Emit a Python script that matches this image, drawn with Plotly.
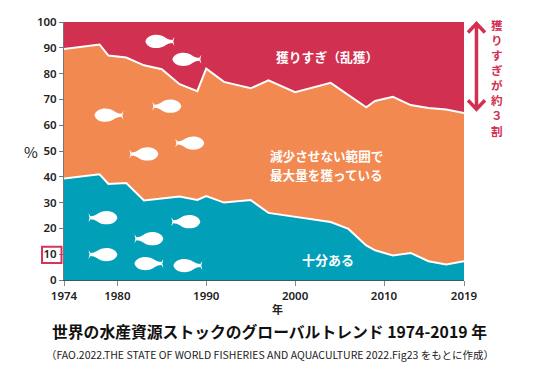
import plotly.graph_objects as go

W, H = 540, 375
L, R, T, B = 64, 464.5, 21.5, 280.5

years_low = [1974, 1978, 1979, 1981, 1983, 1985, 1987, 1989, 1990, 1992, 1995, 1997, 2000, 2004, 2006, 2008, 2009, 2011, 2013, 2015, 2017, 2019]
sustainable = [39.3, 41, 37.2, 37.6, 30.8, 31.5, 32.4, 31, 32.5, 30, 31, 26, 24.6, 22.5, 19.8, 13.4, 11.5, 9.5, 10.5, 7.3, 6, 7.3]
years_up = [1974, 1978, 1979, 1981, 1983, 1985, 1987, 1989, 1990, 1992, 1995, 1997, 2000, 2004, 2008, 2009, 2011, 2013, 2015, 2017, 2019]
max_fished = [89.5, 91.3, 87, 86.2, 83.2, 81.7, 75.9, 73.2, 81.9, 76.8, 74.3, 77.4, 72.8, 76.4, 66.9, 69.4, 71, 67.8, 66.7, 66.1, 64.7]
years_all = [1974, 2019]
total = [100, 100]

x_ticks = [1974, 1980, 1990, 2000, 2010, 2019]
y_ticks = list(range(0, 101, 10))

RED, ORANGE, TEAL = "#d13050", "#f18951", "#029fb8"
JP = "'Noto Sans CJK JP', 'Noto Sans', sans-serif"

def px(x): return (x - L) / (R - L)
def py(y): return (B - y) / (B - T)

# decorative fish: centre x, centre y (page pixels), direction of tail
fish = [(160, 41, 1), (187, 59, 1), (109, 115, 1), (167, 106, -1), (144, 154, -1), (190, 143, -1),
        (103, 218, -1), (149, 239, -1), (186, 222, -1), (103, 255, -1), (149, 264, 1), (188, 266, 1)]

def fish_path(cx, cy, d):
    def p(dx, dy):
        return f"{px(cx + d * dx):.4f},{py(cy + dy):.4f}"
    return (f"M{p(-14.5, 0)} C{p(-13, -7)} {p(-1, -9)} {p(6, -3.5)} Q{p(9, -1.5)} {p(12.5, -1.5)} "
            f"L{p(14.5, -4.5)} L{p(13.5, 0)} L{p(14.5, 4.5)} L{p(12.5, 1.5)} Q{p(9, 1.5)} {p(6, 3.5)} "
            f"C{p(-1, 9)} {p(-13, 7)} {p(-14.5, 0)} Z")

shapes = [dict(type="path", xref="paper", yref="paper", path=fish_path(*f),
               fillcolor="white", line=dict(width=0), layer="above") for f in fish]

# highlighted tick box around 10
shapes.append(dict(type="rect", xref="paper", yref="paper", x0=px(42), x1=px(61.5), y0=py(247), y1=py(263.5),
                   line=dict(color="#d6345f", width=2), fillcolor="rgba(0,0,0,0)"))
# double arrow
ax = 477
arrow = (f"M{px(ax-8.5):.4f},{py(32):.4f} L{px(ax):.4f},{py(23):.4f} L{px(ax+8.5):.4f},{py(32):.4f} "
         f"M{px(ax):.4f},{py(23):.4f} L{px(ax):.4f},{py(109):.4f} "
         f"M{px(ax-8.5):.4f},{py(100):.4f} L{px(ax):.4f},{py(109):.4f} L{px(ax+8.5):.4f},{py(100):.4f}")
shapes.append(dict(type="path", xref="paper", yref="paper", path=arrow,
                   line=dict(color=RED, width=3.5)))

def label(x, y, text, size, color="#ffffff", bold=True, family=JP):
    return dict(xref="paper", yref="paper", x=px(x), y=py(y), text=f"<b>{text}</b>" if bold else text,
                showarrow=False, xanchor="center", yanchor="middle",
                font=dict(family=family, size=size, color=color))

vert = "獲りすぎが約３割"
ann = [
    label(327, 56, "獲りすぎ（乱獲）", 12.8),
    label(327, 155.5, "減少させない範囲で", 12.6),
    label(327, 174.5, "最大量を獲っている", 12.6),
    label(328, 260, "十分ある", 13),
    label(31, 152, "%", 15, "#222222", False),
    label(278, 310, "年", 11, "#222222"),
    label(270, 332, "世界の水産資源ストックのグローバルトレンド 1974-2019 年", 15.8, "#111111"),
    label(270, 355, "（FAO.2022.THE STATE OF WORLD FISHERIES AND AQUACULTURE 2022.Fig23 をもとに作成）", 10.5, "#222222", False),
    label(498, 78, "<br>".join(vert), 11.6, RED),
]

fig = go.Figure()
fig.add_trace(go.Scatter(x=years_all, y=total, mode="lines", line=dict(width=0), fill="tozeroy", fillcolor=RED, hoverinfo="skip"))
fig.add_trace(go.Scatter(x=years_up, y=max_fished, mode="lines", line=dict(color="white", width=2), fill="tozeroy", fillcolor=ORANGE, hoverinfo="skip"))
fig.add_trace(go.Scatter(x=years_low, y=sustainable, mode="lines", line=dict(color="white", width=2), fill="tozeroy", fillcolor=TEAL, hoverinfo="skip"))

tick_font = dict(family="'Noto Sans', sans-serif", size=11.5, color="#222222", weight=600)
fig.update_layout(
    width=W, height=H, autosize=False, showlegend=False, paper_bgcolor="white", plot_bgcolor="white",
    margin=dict(l=L, r=W - R, t=T, b=H - B),
    xaxis=dict(range=[1974, 2019], tickvals=x_ticks, ticks="outside", ticklen=5, tickcolor="#8a8a8a", tickwidth=1,
               showgrid=False, zeroline=False, showline=True, linecolor="#3a5a60", linewidth=1, tickfont=tick_font),
    yaxis=dict(range=[0, 100], tickvals=y_ticks, ticks="outside", ticklen=4, tickcolor="#777777", tickwidth=1,
               showgrid=False, zeroline=False, showline=True, linecolor="#777777", linewidth=1, tickfont=tick_font),
    shapes=shapes, annotations=ann,
)
fig.write_html("out.html", config=dict(displayModeBar=False),
               post_script="document.body.style.margin='0';document.documentElement.style.overflow='hidden';")
